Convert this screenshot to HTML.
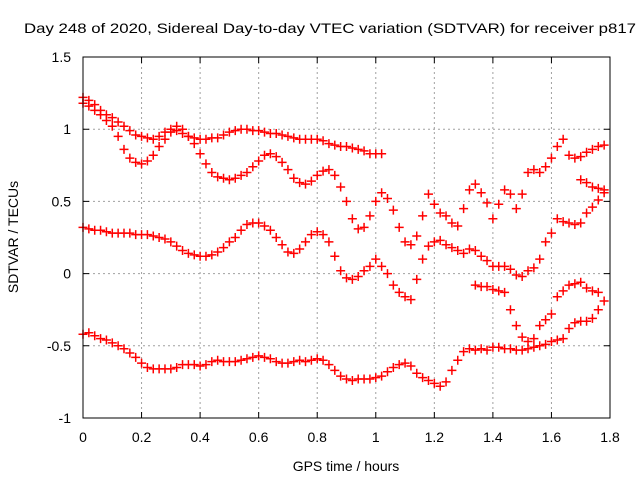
<!DOCTYPE html>
<html><head><meta charset="utf-8"><style>
html,body{margin:0;padding:0;background:#fff;}
svg{display:block;font-family:"Liberation Sans",sans-serif;}
</style></head><body>
<svg id="chart" width="640" height="480" viewBox="0 0 640 480" xmlns="http://www.w3.org/2000/svg">
<rect width="640" height="480" fill="#fff"/>
<text x="330" y="33" font-size="14" text-anchor="middle" textLength="612" lengthAdjust="spacingAndGlyphs">Day 248 of 2020, Sidereal Day-to-day VTEC variation (SDTVAR) for receiver p817</text>
<text transform="translate(18,237) rotate(-90)" font-size="14" text-anchor="middle">SDTVAR / TECUs</text>
<text x="346" y="471" font-size="14" text-anchor="middle">GPS time / hours</text>
<g id="grid"></g><g id="ticks"></g><g id="marks"></g>
<rect x="83" y="57" width="527" height="361" fill="none" stroke="#000" stroke-width="1"/>
</svg>
<script>
const xTicks=[0,0.2,0.4,0.6,0.8,1,1.2,1.4,1.6,1.8];
const xTickLabels=["0","0.2","0.4","0.6","0.8","1","1.2","1.4","1.6","1.8"];
const yTicks=[-1,-0.5,0,0.5,1,1.5];
const yTickLabels=["-1","-0.5","0","0.5","1","1.5"];
const stepHours=0.02;
const startA=0;
const valuesA=[1.22,1.2,1.17,1.13,1.1,1.08,1.05,1.02,0.99,0.96,0.95,0.94,0.93,0.95,0.98,1.0,0.99,0.97,0.95,0.94,0.93,0.93,0.94,0.94,0.96,0.98,0.99,1.0,1.0,0.99,0.99,0.98,0.97,0.97,0.96,0.95,0.94,0.93,0.93,0.93,0.93,0.92,0.9,0.89,0.88,0.88,0.87,0.86,0.85,0.83,0.83,0.83];
const startB=0;
const valuesB=[1.18,1.16,1.13,1.1,1.06,1.02,0.95,0.86,0.8,0.77,0.76,0.78,0.82,0.88,0.93,0.98,1.02,1.0,0.95,0.9,0.83,0.76,0.7,0.67,0.66,0.65,0.66,0.68,0.7,0.74,0.78,0.82,0.83,0.81,0.77,0.72,0.66,0.63,0.62,0.64,0.68,0.71,0.72,0.68,0.6,0.5,0.38,0.31,0.32,0.4,0.5,0.56,0.52,0.44,0.32,0.22,0.2,0.26,0.4,0.55,0.48,0.42,0.4,0.35,0.33,0.45,0.58,0.62,0.56,0.49,0.38,0.48,0.58,0.55,0.45,0.55,0.7,0.72,0.7,0.74,0.8,0.88,0.93,0.82,0.8,0.81,0.84,0.86,0.88,0.89];
const startC=0;
const valuesC=[0.32,0.31,0.3,0.3,0.29,0.28,0.28,0.28,0.28,0.27,0.27,0.27,0.26,0.25,0.24,0.22,0.19,0.16,0.14,0.13,0.12,0.12,0.13,0.15,0.18,0.22,0.25,0.3,0.34,0.35,0.35,0.33,0.3,0.25,0.2,0.15,0.14,0.17,0.22,0.27,0.29,0.27,0.22,0.12,0.02,-0.03,-0.04,-0.02,0.02,0.05,0.1,0.05,0.0,-0.08,-0.13,-0.16,-0.18,-0.04,0.1,0.19,0.22,0.23,0.2,0.18,0.16,0.14,0.17,0.16,0.12,0.09,0.05,0.05,0.05,0.03,-0.01,-0.02,0.02,0.04,0.1,0.22,0.28,0.38,0.36,0.35,0.34,0.35,0.42,0.46,0.51,0.56];
const startD=0;
const valuesD=[-0.42,-0.41,-0.43,-0.45,-0.46,-0.48,-0.5,-0.52,-0.55,-0.58,-0.62,-0.65,-0.66,-0.66,-0.66,-0.66,-0.65,-0.63,-0.63,-0.63,-0.64,-0.63,-0.61,-0.6,-0.61,-0.61,-0.61,-0.6,-0.59,-0.58,-0.57,-0.58,-0.59,-0.61,-0.62,-0.62,-0.61,-0.6,-0.61,-0.6,-0.59,-0.6,-0.63,-0.67,-0.71,-0.73,-0.74,-0.73,-0.73,-0.73,-0.72,-0.71,-0.68,-0.65,-0.63,-0.62,-0.64,-0.69,-0.72,-0.74,-0.76,-0.78,-0.75,-0.67,-0.6,-0.54,-0.52,-0.53,-0.52,-0.53,-0.51,-0.51,-0.52,-0.52,-0.53,-0.53,-0.52,-0.51,-0.5,-0.49,-0.47,-0.46,-0.45,-0.38,-0.34,-0.33,-0.33,-0.31,-0.25,-0.19];
const startE=1.34;
const valuesE=[-0.08,-0.09,-0.09,-0.11,-0.12,-0.13,-0.25,-0.36,-0.44,-0.47,-0.45,-0.36,-0.32,-0.28,-0.16,-0.12,-0.08,-0.07,-0.06,-0.1,-0.12,-0.13];
const startF=1.70;
const valuesF=[0.65,0.63,0.6,0.59,0.58];

const X0=83,X1=610,Y0=418,Y1=57;
function xScale(t){return X0+(t-0)/(1.8-0)*(X1-X0);}
function yScale(v){return Y0-(v-(-1))/(1.5-(-1))*(Y0-Y1);}
const NS="http://www.w3.org/2000/svg";
function mk(tag,attrs){const e=document.createElementNS(NS,tag);for(const k in attrs)e.setAttribute(k,attrs[k]);return e;}
const grid=document.getElementById('grid'),ticks=document.getElementById('ticks'),marks=document.getElementById('marks');
xTicks.forEach((t,i)=>{
  const x=xScale(t);
  if(i>0&&i<xTicks.length-1){const g=mk('line',{x1:x,x2:x,y1:Y1,y2:Y0,stroke:'#a0a0a0','stroke-dasharray':'2,3'});
  
  
  grid.appendChild(g);}
  const tk=mk('path',{d:`M${x},${Y0}v-6M${x},${Y1}v6`,stroke:'#000'});
  
  
  ticks.appendChild(tk);
  const l=mk('text',{x:x,y:442,'font-size':14,'text-anchor':'middle'});
  l.textContent=xTickLabels[i];
  
  
  ticks.appendChild(l);
});
yTicks.forEach((v,i)=>{
  const y=yScale(v);
  if(i>0&&i<yTicks.length-1){const g=mk('line',{x1:X0,x2:X1,y1:y,y2:y,stroke:'#a0a0a0','stroke-dasharray':'2,3'});
  
  
  grid.appendChild(g);}
  const tk=mk('path',{d:`M${X0},${y}h6M${X1},${y}h-6`,stroke:'#000'});
  
  
  ticks.appendChild(tk);
  const l=mk('text',{x:71,y:y+5,'font-size':14,'text-anchor':'end'});
  l.textContent=yTickLabels[i];
  
  
  ticks.appendChild(l);
});
const series=[[startA,valuesA],[startB,valuesB],[startC,valuesC],[startD,valuesD],[startE,valuesE],[startF,valuesF]];
series.forEach(([s,vals])=>{
  vals.forEach((v,i)=>{
    const x=xScale(s+i*stepHours),y=yScale(v);
    const p=mk('path',{d:`M${x-4.5},${y}h9M${x},${y-4.5}v9`,stroke:'#f00','stroke-width':1.5});
    
    
    marks.appendChild(p);
  });
});
</script>
</body></html>
